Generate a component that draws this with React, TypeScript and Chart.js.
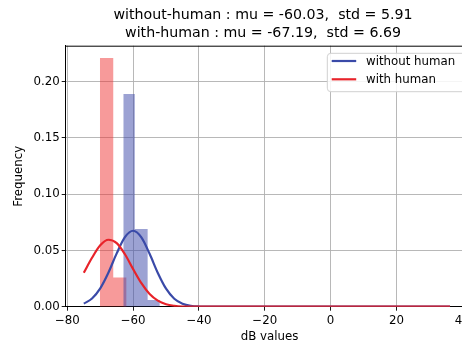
import React, { useEffect, useRef } from "react";
import { Chart, registerables } from "chart.js";

Chart.register(...registerables);

// ---- data ----
const xTicks = [-80, -60, -40, -20, 0, 20, 40];
const yTicks = [0, 0.05, 0.1, 0.15, 0.2];
const xMin = -80.5;
const xMax = 43.4;
const yMin = 0;
const yMax = 0.232;

const seriesNames = ["without human", "with human"];
const titleLines = [
  "without-human : mu = -60.03,  std = 5.91",
  "with-human : mu = -67.19,  std = 6.69",
];
const xLabel = "dB values";
const yLabel = "Frequency";

// histogram bins (edges) and densities
const withoutEdges = [-63.0, -59.5, -55.6, -51.9];
const withoutHeights = [0.189, 0.069, 0.006];
const withEdges = [-70.1, -66.05, -62.0];
const withHeights = [0.221, 0.026];

// fitted normal curves, sampled values
const curveX = [-75, -72.5, -70, -67.5, -65, -62.5, -60, -57.5, -55, -52.5, -50, -47.5, -45, -42.5, -40, -35, 36.3];
const withoutCurve = [0.0027, 0.0073, 0.0163, 0.0304, 0.0474, 0.0618, 0.0675, 0.0616, 0.047, 0.03, 0.016, 0.0071, 0.0027, 0.0008, 0.0002, 0, 0];
const withCurve = [0.0302, 0.0435, 0.0546, 0.0595, 0.0565, 0.0466, 0.0334, 0.0209, 0.0113, 0.0054, 0.0022, 0.0008, 0.0002, 0.0001, 0, 0, 0];

const FONT = "'DejaVu Sans', 'Liberation Sans', sans-serif";
const BLUE = "#3a4aa8";
const RED = "#e8232a";

function stepPoints(edges: number[], heights: number[]) {
  const pts: { x: number; y: number }[] = [{ x: edges[0], y: 0 }];
  heights.forEach((h, i) => pts.push({ x: edges[i], y: h }));
  pts.push({ x: edges[edges.length - 1], y: 0 });
  return pts;
}

const overlay = {
  id: "overlay",
  afterDraw(chart: any) {
    const { ctx, chartArea } = chart;
    const { left, right, top, bottom } = chartArea;
    ctx.save();
    // top & right spines
    ctx.strokeStyle = "#000";
    ctx.lineWidth = 1;
    ctx.beginPath();
    ctx.moveTo(left, top + 0.5);
    ctx.lineTo(right, top + 0.5);
    ctx.moveTo(right - 0.5, top);
    ctx.lineTo(right - 0.5, bottom);
    ctx.stroke();

    // title (figure-centred)
    ctx.fillStyle = "#000";
    ctx.font = `14.2px ${FONT}`;
    ctx.textAlign = "center";
    ctx.textBaseline = "middle";
    const cx = chart.width / 2;
    ctx.fillText(titleLines[0], cx, 15);
    ctx.fillText(titleLines[1], cx, 33.3);

    // legend
    const bx = 327.3;
    const by = 53.3;
    const bw = right - 6 - bx;
    const bh = 38.4;
    const r = 3.5;
    ctx.beginPath();
    ctx.moveTo(bx + r, by);
    ctx.lineTo(bx + bw - r, by);
    ctx.quadraticCurveTo(bx + bw, by, bx + bw, by + r);
    ctx.lineTo(bx + bw, by + bh - r);
    ctx.quadraticCurveTo(bx + bw, by + bh, bx + bw - r, by + bh);
    ctx.lineTo(bx + r, by + bh);
    ctx.quadraticCurveTo(bx, by + bh, bx, by + bh - r);
    ctx.lineTo(bx, by + r);
    ctx.quadraticCurveTo(bx, by, bx + r, by);
    ctx.closePath();
    ctx.fillStyle = "rgba(255,255,255,0.85)";
    ctx.fill();
    ctx.strokeStyle = "#d0d0d0";
    ctx.lineWidth = 1;
    ctx.stroke();

    const rows = [
      { name: seriesNames[0], color: BLUE, y: 61 },
      { name: seriesNames[1], color: RED, y: 79.3 },
    ];
    ctx.font = `11.8px ${FONT}`;
    ctx.textAlign = "left";
    rows.forEach((row) => {
      ctx.strokeStyle = row.color;
      ctx.lineWidth = 2.2;
      ctx.beginPath();
      ctx.moveTo(331.7, row.y);
      ctx.lineTo(356.2, row.y);
      ctx.stroke();
      ctx.fillStyle = "#000";
      ctx.fillText(row.name, 366, row.y + 0.5);
    });
    ctx.restore();
  },
};

export default function App() {
  const ref = useRef<HTMLCanvasElement>(null);

  useEffect(() => {
    if (!ref.current) return;
    const chart = new Chart(ref.current, {
      type: "line",
      data: {
        datasets: [
          {
            label: seriesNames[1] + " fit",
            data: curveX.map((x, i) => ({ x, y: withCurve[i] })),
            borderColor: RED,
            borderWidth: 2.2,
            pointRadius: 0,
            cubicInterpolationMode: "monotone",
            fill: false,
            order: 0,
          },
          {
            label: seriesNames[0] + " fit",
            data: curveX.map((x, i) => ({ x, y: withoutCurve[i] })),
            borderColor: BLUE,
            borderWidth: 2.2,
            pointRadius: 0,
            cubicInterpolationMode: "monotone",
            fill: false,
            order: 1,
          },
          {
            label: seriesNames[0] + " hist",
            data: stepPoints(withoutEdges, withoutHeights),
            stepped: true,
            borderWidth: 0,
            borderColor: "rgba(0,0,0,0)",
            backgroundColor: "rgba(58,70,168,0.5)",
            pointRadius: 0,
            fill: "origin",
            order: 2,
          },
          {
            label: seriesNames[1] + " hist",
            data: stepPoints(withEdges, withHeights),
            stepped: true,
            borderWidth: 0,
            borderColor: "rgba(0,0,0,0)",
            backgroundColor: "rgba(238,44,44,0.48)",
            pointRadius: 0,
            fill: "origin",
            order: 3,
          },
        ],
      },
      options: {
        animation: false,
        responsive: false,
        devicePixelRatio: 1,
        layout: { padding: { top: 45.7, right: 52.6, left: 0, bottom: 0 } },
        plugins: {
          legend: { display: false },
          title: { display: false },
          tooltip: { enabled: false },
        },
        scales: {
          x: {
            type: "linear",
            min: xMin,
            max: xMax,
            afterBuildTicks: (s: any) => {
              s.ticks = xTicks.map((v) => ({ value: v }));
            },
            afterFit: (s: any) => {
              s.height = 38.3;
            },
            grid: {
              color: "#b0b0b0",
              lineWidth: 0.9,
              tickColor: "#000",
              tickLength: 4,
            },
            border: { color: "#000", width: 1 },
            ticks: {
              color: "#000",
              font: { family: FONT, size: 11.8 },
              padding: 3,
              maxRotation: 0,
              autoSkip: false,
              callback: (v: any) => String(v).replace("-", "\u2212"),
            },
            title: {
              display: true,
              text: xLabel,
              color: "#000",
              font: { family: FONT, size: 11.8 },
              padding: { top: 0, bottom: 1 },
            },
          },
          y: {
            type: "linear",
            min: yMin,
            max: yMax,
            afterBuildTicks: (s: any) => {
              s.ticks = yTicks.map((v) => ({ value: v }));
            },
            afterFit: (s: any) => {
              s.width = 65.7;
            },
            grid: {
              color: "#b0b0b0",
              lineWidth: 0.9,
              tickColor: "#000",
              tickLength: 4,
            },
            border: { color: "#000", width: 1 },
            ticks: {
              color: "#000",
              font: { family: FONT, size: 11.8 },
              padding: 2,
              autoSkip: false,
              callback: (v: any) => Number(v).toFixed(2),
            },
            title: {
              display: true,
              text: yLabel,
              color: "#000",
              font: { family: FONT, size: 11.8 },
              padding: { top: 12, bottom: 0 },
            },
          },
        },
      },
      plugins: [overlay],
    } as any);
    return () => chart.destroy();
  }, []);

  return (
    <div
      style={{
        position: "absolute",
        left: 0,
        top: 0,
        width: 462,
        height: 345,
        overflow: "hidden",
        background: "#fff",
      }}
    >
      <canvas ref={ref} width={526} height={345} style={{ display: "block", width: 526, height: 345 }} />
    </div>
  );
}
